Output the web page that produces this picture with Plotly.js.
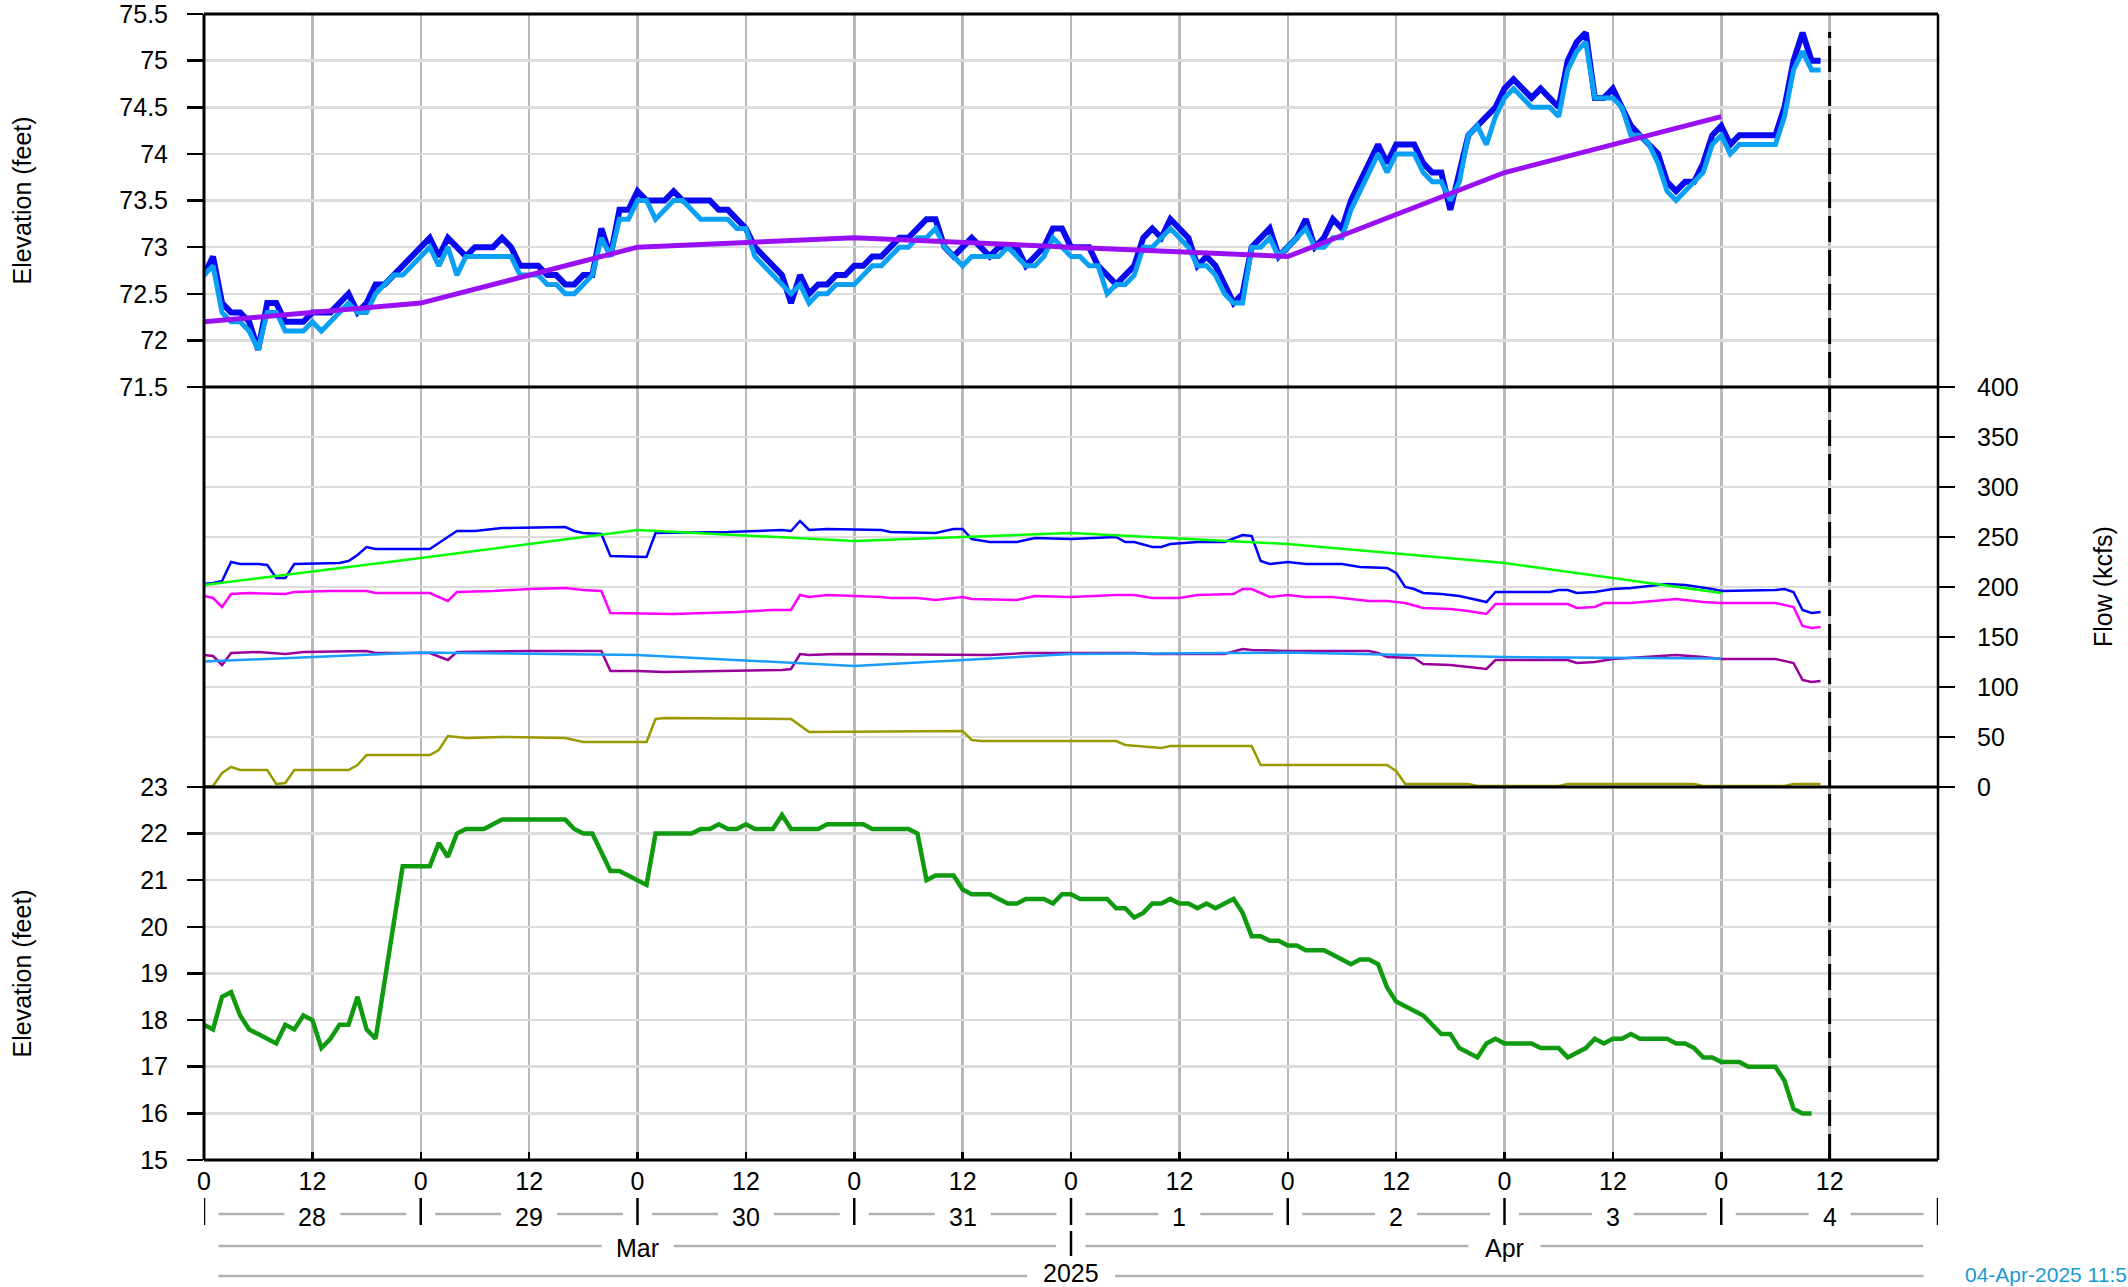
<!DOCTYPE html>
<html>
<head>
<meta charset="utf-8">
<script src="https://cdn.plot.ly/plotly-3.0.1.min.js"></script>
<style>html,body{margin:0;padding:0;background:#fff;}#chart{width:2128px;height:1287px;}</style>
</head>
<body>
<div id="chart"></div>
<script>
// ---------- DATA (hours since 2025-03-28 00:00) ----------
// Top panel: hourly elevations, index = hour
const elevDark = [72.7,72.9,72.4,72.3,72.3,72.2,71.9,72.4,72.4,72.2,72.2,72.2,72.3,72.3,72.3,72.4,72.5,72.3,72.4,72.6,72.6,72.7,72.8,72.9,
73.0,73.1,72.9,73.1,73.0,72.9,73.0,73.0,73.0,73.1,73.0,72.8,72.8,72.8,72.7,72.7,72.6,72.6,72.7,72.7,73.2,72.9,73.4,73.4,
73.6,73.5,73.5,73.5,73.6,73.5,73.5,73.5,73.5,73.4,73.4,73.3,73.2,73.0,72.9,72.8,72.7,72.4,72.7,72.5,72.6,72.6,72.7,72.7,
72.8,72.8,72.9,72.9,73.0,73.1,73.1,73.2,73.3,73.3,73.0,72.9,73.0,73.1,73.0,72.9,73.0,73.0,73.0,72.8,72.9,73.0,73.2,73.2,
73.0,73.0,73.0,72.8,72.7,72.6,72.7,72.8,73.1,73.2,73.1,73.3,73.2,73.1,72.8,72.9,72.8,72.6,72.4,72.5,73.0,73.1,73.2,72.9,
73.0,73.1,73.3,73.0,73.1,73.3,73.2,73.5,73.7,73.9,74.1,73.9,74.1,74.1,74.1,73.9,73.8,73.8,73.4,73.8,74.2,74.3,74.4,74.5,
74.7,74.8,74.7,74.6,74.7,74.6,74.5,75.0,75.2,75.3,74.6,74.6,74.7,74.5,74.3,74.2,74.1,74.0,73.7,73.6,73.7,73.7,73.9,74.2,
74.3,74.1,74.2,74.2,74.2,74.2,74.2,74.5,75.0,75.3,75.0,75.0];
const elevLight = [72.7,72.8,72.3,72.2,72.2,72.1,71.9,72.3,72.3,72.1,72.1,72.1,72.2,72.1,72.2,72.3,72.4,72.3,72.3,72.5,72.6,72.7,72.7,72.8,
72.9,73.0,72.8,73.0,72.7,72.9,72.9,72.9,72.9,72.9,72.9,72.7,72.7,72.7,72.6,72.6,72.5,72.5,72.6,72.7,73.1,72.9,73.3,73.3,
73.5,73.5,73.3,73.4,73.5,73.5,73.4,73.3,73.3,73.3,73.3,73.2,73.2,72.9,72.8,72.7,72.6,72.5,72.6,72.4,72.5,72.5,72.6,72.6,
72.6,72.7,72.8,72.8,72.9,73.0,73.0,73.1,73.1,73.2,73.0,72.9,72.8,72.9,72.9,72.9,72.9,73.0,72.9,72.8,72.8,72.9,73.1,73.0,
72.9,72.9,72.8,72.8,72.5,72.6,72.6,72.7,73.0,73.0,73.1,73.2,73.1,73.0,72.8,72.8,72.7,72.5,72.4,72.4,73.0,73.0,73.1,72.9,
73.0,73.1,73.2,73.0,73.0,73.1,73.1,73.4,73.6,73.8,74.0,73.8,74.0,74.0,74.0,73.8,73.7,73.7,73.5,73.7,74.2,74.3,74.1,74.4,
74.6,74.7,74.6,74.5,74.5,74.5,74.4,74.9,75.1,75.2,74.6,74.6,74.6,74.5,74.2,74.2,74.1,73.9,73.6,73.5,73.6,73.7,73.8,74.1,
74.2,74.0,74.1,74.1,74.1,74.1,74.1,74.4,74.9,75.1,74.9,74.9];
const elevRuleHours = [0,24,48,72,96,120,144,168];
const elevRule      = [72.2,72.4,73.0,73.1,73.0,72.9,73.8,74.4];

// Middle panel: flows (kcfs) at reading hours
const flowBlueH = [0,1,2,3,4,6,7,8,9,10,15,16,17,18,19,25,26,27,28,30,33,40,41,42,44,45,49,50,58,64,65,66,67,69,75,76,81,83,84,85,87,90,92,96,101,102,103,105,106,107,110,113,115,116,117,118,120,122,126,128,131,132,133,134,135,137,139,140,142,143,149,150,151,152,154,156,158,162,164,167,168,174,175,176,177,178,179];
const flowBlue  = [203,204,206,225,223,223,222,209,209,223,224,226,232,240,238,238,244,250,256,256,259,260,256,254,253,231,230,254,255,257,256,266,257,258,257,255,254,258,258,248,245,245,249,248,250,245,245,240,240,243,245,245,252,251,226,223,225,223,223,220,219,214,200,198,194,193,191,189,185,195,195,197,197,194,195,198,199,203,202,198,196,197,198,195,177,174,175];
const flowMagH = [0,1,2,3,5,8,9,10,14,18,19,25,27,28,32,36,40,42,44,45,49,52,59,63,65,66,67,69,75,76,79,81,84,85,90,92,96,101,103,105,108,110,114,115,116,118,120,122,125,129,131,133,135,138,140,142,143,151,152,154,155,158,163,166,168,174,176,177,178,179];
const flowMag  = [191,189,180,193,194,193,193,195,196,196,194,194,186,195,196,198,199,197,196,174,173,173,175,177,177,192,190,192,190,189,189,187,190,188,187,191,190,192,192,189,189,192,193,198,198,190,192,190,190,186,186,184,179,178,176,173,183,183,179,180,184,184,188,185,184,184,180,161,159,160];
const flowPurH = [0,1,2,3,6,9,11,18,19,25,27,28,36,44,45,48,51,60,64,65,66,67,70,87,91,96,103,105,113,115,116,120,129,130,131,134,135,138,140,142,143,151,152,154,156,160,163,166,168,174,176,177,178,179];
const flowPur  = [132,131,122,134,135,133,135,136,134,134,127,135,136,136,116,116,115,116,117,118,133,132,133,132,134,134,134,133,133,138,137,136,136,134,130,129,123,122,120,118,127,127,124,125,128,130,132,130,128,128,124,107,105,106];
const flowSkyH = [0,24,48,72,96,120,144,168];
const flowSky  = [125.5,134.4,132,121,133,134.4,130,128.5];
const flowGreenH = [0,24,48,72,96,120,144,168];
const flowGreen  = [202,229,257,246,254,243,224,194];
const flowOliveH = [0,1,2,3,4,7,8,9,10,16,17,18,25,26,27,29,33,40,42,49,50,51,65,67,84,85,86,101,102,105,106,107,116,117,131,132,133,140,141,150,151,165,166,175,176,179];
const flowOlive  = [0.5,1,14,20,17,17,3,4,17,17,22,32,32,37,51,49,50,49,45,45,68,69,68,55,56,47,46,46,42,40,39,41,41,22,22,16,3,3,1,1,3,3,1,1,3,3];

// Bottom panel: hourly elevation
const elevLower = [17.9,17.8,18.5,18.6,18.1,17.8,17.7,17.6,17.5,17.9,17.8,18.1,18.0,17.4,17.6,17.9,17.9,18.5,17.8,17.6,18.8,20.0,21.3,21.3,
21.3,21.3,21.8,21.5,22.0,22.1,22.1,22.1,22.2,22.3,22.3,22.3,22.3,22.3,22.3,22.3,22.3,22.1,22.0,22.0,21.6,21.2,21.2,21.1,
21.0,20.9,22.0,22.0,22.0,22.0,22.0,22.1,22.1,22.2,22.1,22.1,22.2,22.1,22.1,22.1,22.4,22.1,22.1,22.1,22.1,22.2,22.2,22.2,
22.2,22.2,22.1,22.1,22.1,22.1,22.1,22.0,21.0,21.1,21.1,21.1,20.8,20.7,20.7,20.7,20.6,20.5,20.5,20.6,20.6,20.6,20.5,20.7,
20.7,20.6,20.6,20.6,20.6,20.4,20.4,20.2,20.3,20.5,20.5,20.6,20.5,20.5,20.4,20.5,20.4,20.5,20.6,20.3,19.8,19.8,19.7,19.7,
19.6,19.6,19.5,19.5,19.5,19.4,19.3,19.2,19.3,19.3,19.2,18.7,18.4,18.3,18.2,18.1,17.9,17.7,17.7,17.4,17.3,17.2,17.5,17.6,
17.5,17.5,17.5,17.5,17.4,17.4,17.4,17.2,17.3,17.4,17.6,17.5,17.6,17.6,17.7,17.6,17.6,17.6,17.6,17.5,17.5,17.4,17.2,17.2,
17.1,17.1,17.1,17.0,17.0,17.0,17.0,16.7,16.1,16.0,16.0];

// Axis labels
const hourTickHours  = [0,12,24,36,48,60,72,84,96,108,120,132,144,156,168,180];
const hourTickLabels = ['0','12','0','12','0','12','0','12','0','12','0','12','0','12','0','12'];
const dayLabels   = ['28','29','30','31','1','2','3','4'];
const monthLabels = ['Mar','Apr'];
const monthStartDay = [0,4];   // index into days
const monthDays     = [4,4];
const yearLabel   = '2025';
const stampText   = '04-Apr-2025 11:5';

// ---------- helpers ----------
const T0 = Date.UTC(2025,2,28);
function t(h){ return new Date(T0 + h*3600000).toISOString().slice(0,19).replace('T',' '); }
function hourly(arr){ return arr.map((_,i)=>t(i)); }

const PXH = 1734/192;          // pixels per hour on x axis
const pxToH = px => px/PXH;
const H = 1146;                // plot height px
const py = p => (1160 - p)/H;  // page px -> paper y

const FONT = 'Liberation Sans, Arial, Helvetica, sans-serif';

const traces = [
  {x: hourly(elevDark), y: elevDark, yaxis:'y3', mode:'lines', line:{color:'#0a0aee', width:6}},
  {x: hourly(elevLight), y: elevLight, yaxis:'y3', mode:'lines', line:{color:'#0aa0f5', width:5}},
  {x: elevRuleHours.map(t), y: elevRule, yaxis:'y3', mode:'lines', line:{color:'#9a10f5', width:5}},

  {x: flowBlueH.map(t), y: flowBlue, yaxis:'y2', mode:'lines', line:{color:'#0000ff', width:2.5}},
  {x: flowMagH.map(t), y: flowMag, yaxis:'y2', mode:'lines', line:{color:'#ff00ff', width:2.5}},
  {x: flowPurH.map(t), y: flowPur, yaxis:'y2', mode:'lines', line:{color:'#990099', width:2.5}},
  {x: flowSkyH.map(t), y: flowSky, yaxis:'y2', mode:'lines', line:{color:'#1a9cff', width:2.5}},
  {x: flowOliveH.map(t), y: flowOlive, yaxis:'y2', mode:'lines', line:{color:'#999900', width:2.5}},
  {x: flowGreenH.map(t), y: flowGreen, yaxis:'y2', mode:'lines', line:{color:'#00ff00', width:2.5}},

  {x: hourly(elevLower), y: elevLower, yaxis:'y', mode:'lines', line:{color:'#109a10', width:4.5}}
];

const D1 = 0.3255, D2 = 0.6745;
const shapes = [];
const annotations = [];

// frame
[0, D1, D2, 1].forEach(yv => shapes.push({type:'line', xref:'paper', yref:'paper', x0:0, x1:1, y0:yv, y1:yv, line:{color:'#000', width:3}, layer:'above'}));
shapes.push({type:'line', xref:'paper', yref:'paper', x0:0, x1:0, y0:0, y1:1, line:{color:'#000', width:3}, layer:'above'});
shapes.push({type:'line', xref:'paper', yref:'paper', x0:1, x1:1, y0:0, y1:1, line:{color:'#000', width:2.5}, layer:'above'});

// dashed "now" line
shapes.push({type:'line', xref:'x', yref:'paper', x0:t(180), x1:t(180), y0:0, y1:py(32), line:{color:'#000', width:3, dash:'26px,8px'}, layer:'above'});

const GREY = '#b0b0b0';
function seg(h0, h1, yp){ shapes.push({type:'line', xref:'x', yref:'paper', x0:t(h0), x1:t(h1), y0:yp, y1:yp, line:{color:GREY, width:2.5}}); }
function sep(h, ya, yb){ shapes.push({type:'line', xref:'x', yref:'paper', x0:t(h), x1:t(h), y0:py(ya), y1:py(yb), line:{color:'#000', width:2.5}}); }

// day row
dayLabels.forEach((lab, i) => {
  const s = 24*i, c = s+12, e = s+24;
  const gap = pxToH(lab.length > 1 ? 28 : 21);
  seg(s + pxToH(14.5), c - gap, py(1214));
  seg(c + gap, e - pxToH(14.5), py(1214));
  annotations.push({x:t(c), y:py(1217), xref:'x', yref:'paper', text:lab, showarrow:false, xanchor:'center', yanchor:'middle', font:{size:25, color:'#000', family:FONT}});
});
for (let i=0;i<=dayLabels.length;i++) sep(24*i, 1198, 1225);

// month row
monthLabels.forEach((lab, i) => {
  const s = 24*monthStartDay[i], e = s + 24*monthDays[i], c = (s+e)/2;
  const gap = pxToH(36);
  seg(s + pxToH(14.5), c - gap, py(1246));
  seg(c + gap, e - pxToH(15), py(1246));
  annotations.push({x:t(c), y:py(1248), xref:'x', yref:'paper', text:lab, showarrow:false, xanchor:'center', yanchor:'middle', font:{size:25, color:'#000', family:FONT}});
});
sep(24*monthStartDay[1], 1231, 1256);

// year row
seg(pxToH(14.5), 96 - pxToH(44), py(1276));
seg(96 + pxToH(44), 192 - pxToH(14.5), py(1276));
annotations.push({x:t(96), y:py(1273), xref:'x', yref:'paper', text:yearLabel, showarrow:false, xanchor:'center', yanchor:'middle', font:{size:25, color:'#000', family:FONT}});

// timestamp
annotations.push({x:(1963-204)/1734, y:py(1274), xref:'paper', yref:'paper', text:stampText, showarrow:false, xanchor:'left', yanchor:'middle', font:{size:21, color:'#1a9ad0', family:FONT}});

// axis titles
annotations.push({x:(22-204)/1734, y:(D2+1)/2, xref:'paper', yref:'paper', text:'Elevation (feet)', textangle:-90, showarrow:false, xanchor:'center', yanchor:'middle', font:{size:25, color:'#000', family:FONT}});
annotations.push({x:(22-204)/1734, y:D1/2, xref:'paper', yref:'paper', text:'Elevation (feet)', textangle:-90, showarrow:false, xanchor:'center', yanchor:'middle', font:{size:25, color:'#000', family:FONT}});
annotations.push({x:(2103-204)/1734, y:0.5, xref:'paper', yref:'paper', text:'Flow (kcfs)', textangle:-90, showarrow:false, xanchor:'center', yanchor:'middle', font:{size:25, color:'#000', family:FONT}});

const yCommon = {
  anchor:'x', showgrid:true, gridcolor:'#dcdcdc', gridwidth:2.5, zeroline:false, showline:false,
  ticks:'outside', ticklen:16, tickwidth:2.5, tickcolor:'#000', ticklabelstandoff:14,
  ticklabeloverflow:'allow', automargin:false,
  tickfont:{size:25, color:'#000', family:FONT}, fixedrange:true
};

const layout = {
  width:2128, height:1287,
  margin:{l:204, r:190, t:14, b:127, pad:0},
  paper_bgcolor:'#fff', plot_bgcolor:'#fff',
  showlegend:false,
  font:{family:FONT, size:25, color:'#000'},
  xaxis:{
    type:'date', range:[t(0), t(192)], anchor:'y',
    tickmode:'array', tickvals:hourTickHours.map(t), ticktext:hourTickLabels,
    ticks:'inside', ticklen:8, tickwidth:2.5, tickcolor:'#000',
    showgrid:true, gridcolor:'#b8b8b8', gridwidth:2.5, zeroline:false, showline:false,
    tickfont:{size:25, color:'#000', family:FONT}, ticklabelstandoff:4, fixedrange:true
  },
  yaxis:  Object.assign({}, yCommon, {domain:[0, D1], range:[15, 23], dtick:1, tick0:15, side:'left'}),
  yaxis2: Object.assign({}, yCommon, {domain:[D1, D2], range:[0, 400], dtick:50, tick0:0, side:'right', ticklabelstandoff:17}),
  yaxis3: Object.assign({}, yCommon, {domain:[D2, 1], range:[71.5, 75.5], dtick:0.5, tick0:71.5, side:'left'}),
  shapes: shapes,
  annotations: annotations
};

Plotly.newPlot('chart', traces, layout, {displayModeBar:false, staticPlot:true});
</script>
</body>
</html>
